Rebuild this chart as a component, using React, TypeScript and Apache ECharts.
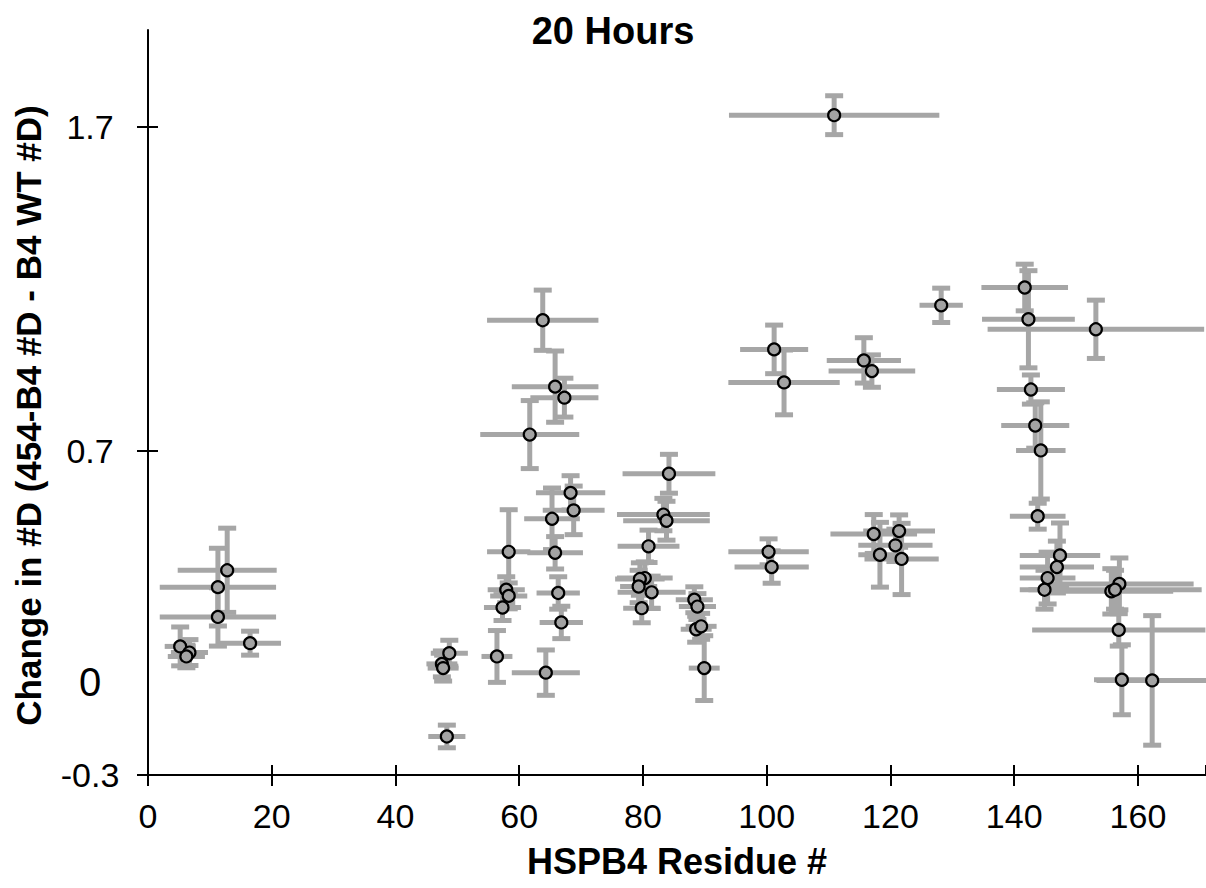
import React, { useEffect, useRef } from "react";
import * as echarts from "echarts";

// HSPB4 residue number (x), change in #D (y), and their error half-widths
const residue = [
  5.2, 6.7, 6.2, 11.3, 12.8, 11.3, 16.5,
  48.7, 47.5, 47.7, 48.3,
  63.8, 65.8, 67.3, 61.7, 68.3, 68.8, 65.3, 58.3, 65.8, 57.9, 58.3, 57.3, 66.3, 66.8, 56.4, 64.3,
  84.2, 83.3, 83.8, 80.9, 80.3, 79.5, 79.3, 81.4, 79.8, 88.3, 88.8, 88.6, 89.4, 89.9,
  100.3, 100.8, 110.9, 128.2, 101.2, 102.8, 115.7, 117.0, 117.3, 118.3, 121.4, 120.8, 121.8,
  141.7, 142.3, 153.2, 142.7, 143.4, 144.3, 143.8, 147.4, 146.9, 145.4, 144.9, 157.0, 155.7, 156.3, 156.9, 157.4, 162.3,
];
const deltaD = [
  0.097, 0.078, 0.066, 0.28, 0.332, 0.188, 0.107,
  0.076, 0.043, 0.03, -0.181,
  1.104, 0.899, 0.865, 0.751, 0.571, 0.517, 0.491, 0.389, 0.386, 0.272, 0.253, 0.217, 0.262, 0.171, 0.066, 0.016,
  0.63, 0.504, 0.485, 0.406, 0.308, 0.305, 0.282, 0.264, 0.215, 0.241, 0.22, 0.15, 0.159, 0.03,
  0.389, 0.342, 1.737, 1.15, 1.014, 0.912, 0.98, 0.947, 0.444, 0.38, 0.453, 0.409, 0.367,
  1.205, 1.107, 1.076, 0.89, 0.779, 0.702, 0.499, 0.378, 0.342, 0.308, 0.272, 0.29, 0.267, 0.272, 0.148, -0.006, -0.008,
];
const residueErr = [
  2.5, 3, 3, 9.4, 8, 9.4, 5,
  3, 2.5, 2.5, 3,
  9, 7, 5.5, 8, 5.6, 5, 4.5, 3.5, 4.5, 3, 3, 3, 3.5, 3.5, 2.5, 5.5,
  7.5, 7.5, 7, 5, 4.5, 4, 3, 5.5, 3, 3, 3, 2.5, 2.5, 2.5,
  6.5, 6, 17, 3.5, 5.5, 9, 6, 7, 7, 3.5, 5.8, 6, 6,
  7, 7.5, 17.5, 5.5, 5.5, 4, 4.5, 6.5, 6, 4.5, 4, 12, 10, 14, 14, 4.5, 9,
];
const deltaErr = [
  0.06, 0.04, 0.035, 0.12, 0.13, 0.09, 0.037,
  0.04, 0.04, 0.04, 0.035,
  0.093, 0.11, 0.06, 0.105, 0.053, 0.075, 0.095, 0.13, 0.05, 0.04, 0.04, 0.04, 0.05, 0.05, 0.08, 0.07,
  0.06, 0.05, 0.06, 0.05, 0.05, 0.05, 0.05, 0.05, 0.045, 0.04, 0.04, 0.04, 0.04, 0.1,
  0.04, 0.05, 0.06, 0.053, 0.075, 0.1, 0.07, 0.05, 0.06, 0.1, 0.05, 0.05, 0.11,
  0.072, 0.15, 0.09, 0.045, 0.07, 0.15, 0.04, 0.1, 0.08, 0.08, 0.06, 0.08, 0.07, 0.06, 0.05, 0.108, 0.2,
];

const xTickStep = 20;
const yTickValues = [-0.3, 0.7, 1.7];
const yLabelValues = [-0.3, 0, 0.7, 1.7];

const FONT = '"Liberation Sans", Arial, Helvetica, sans-serif';
const BAR = "#a6a6a6";

export default function App() {
  const ref = useRef<HTMLDivElement>(null);

  useEffect(() => {
    if (!ref.current) return;
    const chart = echarts.init(ref.current, undefined, { renderer: "svg" });

    const points = residue.map((x, i) => [x, deltaD[i]]);
    const bars = residue.map((x, i) => [x, deltaD[i], residueErr[i], deltaErr[i]]);

    const option: any = {
      animation: false,
      backgroundColor: "#ffffff",
      textStyle: { fontFamily: FONT },
      grid: { left: 148, right: 0, top: 30, bottom: 113, containLabel: false },
      graphic: [
        {
          type: "text",
          x: 613,
          y: 31,
          style: {
            text: "20 Hours",
            font: `bold 38px ${FONT}`,
            fill: "#000",
            textAlign: "center",
            textVerticalAlign: "middle",
          },
        },
      ],
      xAxis: [
        {
          type: "value",
          min: 0,
          max: 171,
          interval: xTickStep,
          position: "bottom",
          name: "HSPB4 Residue #",
          nameLocation: "middle",
          nameGap: 68,
          nameTextStyle: { fontFamily: FONT, fontWeight: "bold", fontSize: 36, color: "#000" },
          axisLine: { show: true, onZero: false, lineStyle: { color: "#000", width: 2 } },
          axisTick: { show: true, inside: false, length: 11, lineStyle: { color: "#000", width: 2 } },
          axisLabel: { show: true, margin: 24, fontSize: 34, color: "#000", fontFamily: FONT, showMaxLabel: false },
          splitLine: { show: false },
        },
        {
          type: "value",
          min: 0,
          max: 171,
          interval: xTickStep,
          position: "bottom",
          axisLine: { show: false, onZero: false },
          axisTick: { show: true, inside: true, length: 10, lineStyle: { color: "#000", width: 2 } },
          axisLabel: { show: false },
          splitLine: { show: false },
        },
      ],
      yAxis: [
        {
          type: "value",
          min: -0.3,
          max: 2.0,
          position: "left",
          name: "Change in #D (454-B4 #D - B4 WT #D)",
          nameLocation: "middle",
          nameGap: 102,
          nameTextStyle: { fontFamily: FONT, fontWeight: "bold", fontSize: 35, color: "#000", padding: [0, 26, 0, 0] },
          axisLine: { show: true, onZero: false, lineStyle: { color: "#000", width: 2 } },
          axisTick: { show: true, inside: false, length: 11, customValues: yTickValues, lineStyle: { color: "#000", width: 2 } },
          axisLabel: {
            show: true,
            customValues: yLabelValues,
            align: "center",
            margin: 58,
            fontSize: 34,
            color: "#000",
            fontFamily: FONT,
            formatter: (v: number) => (Math.abs(v) < 1e-9 ? "{big|0}" : String(v)),
            rich: { big: { fontSize: 40, fontFamily: FONT, color: "#000", padding: [8, 0, 0, 0] } },
          },
          splitLine: { show: false },
        },
        {
          type: "value",
          min: -0.3,
          max: 2.0,
          position: "left",
          axisLine: { show: false, onZero: false },
          axisTick: { show: true, inside: true, length: 10, customValues: yTickValues, lineStyle: { color: "#000", width: 2 } },
          axisLabel: { show: false, customValues: yTickValues },
          splitLine: { show: false },
        },
      ],
      series: [
        {
          type: "custom",
          name: "error",
          xAxisIndex: 0,
          yAxisIndex: 0,
          clip: true,
          encode: { x: 0, y: 1 },
          data: bars,
          renderItem: (params: any, api: any) => {
            const x = api.value(0);
            const y = api.value(1);
            const xe = api.value(2);
            const ye = api.value(3);
            const left = api.coord([x - xe, y]);
            const right = api.coord([x + xe, y]);
            const top = api.coord([x, y + ye]);
            const bottom = api.coord([x, y - ye]);
            const cap = 9;
            const style = { stroke: BAR, lineWidth: 5, lineCap: "butt" };
            return {
              type: "group",
              children: [
                { type: "line", shape: { x1: left[0], y1: left[1], x2: right[0], y2: right[1] }, style },
                { type: "line", shape: { x1: top[0], y1: top[1], x2: bottom[0], y2: bottom[1] }, style },
                { type: "line", shape: { x1: top[0] - cap, y1: top[1], x2: top[0] + cap, y2: top[1] }, style },
                { type: "line", shape: { x1: bottom[0] - cap, y1: bottom[1], x2: bottom[0] + cap, y2: bottom[1] }, style },
              ],
            };
          },
          z: 2,
        },
        {
          type: "scatter",
          name: "points",
          xAxisIndex: 0,
          yAxisIndex: 0,
          data: points,
          symbol: "circle",
          symbolSize: 12,
          itemStyle: { color: "#a3a3a3", borderColor: "#000", borderWidth: 2.2, opacity: 1 },
          z: 3,
        },
      ],
    };

    chart.setOption(option);
    return () => chart.dispose();
  }, []);

  return (
    <div
      ref={ref}
      style={{ position: "fixed", left: 0, top: 0, width: 1206, height: 888, background: "#fff" }}
    />
  );
}
